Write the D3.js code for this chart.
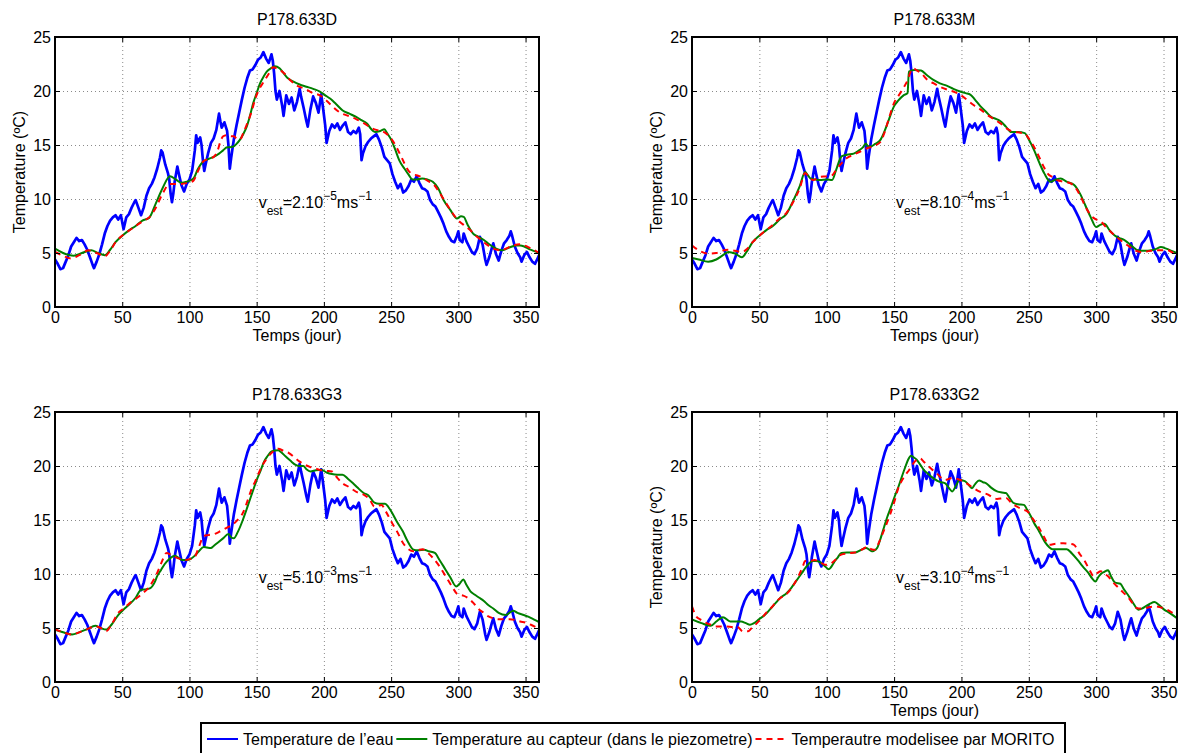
<!DOCTYPE html>
<html>
<head>
<meta charset="utf-8">
<script src="https://cdn.jsdelivr.net/npm/d3@7"></script>
<style>
  html, body { margin: 0; padding: 0; background: #fff; }
  svg { display: block; font-family: "Liberation Sans", Arial, Helvetica, sans-serif; }
</style>
</head>
<body>
<div id="chart"></div>
<script>
// ---------------- DATA ----------------
const panelTitles = ["P178.633D", "P178.633M", "P178.633G3", "P178.633G2"];
const velocityMantissa = ["2", "8", "5", "3"];
const velocityExponent = ["\u22125", "\u22124", "\u22123", "\u22124"];
const xTicks = [0, 50, 100, 150, 200, 250, 300, 350];
const yTicks = [0, 5, 10, 15, 20, 25];
const legendLabels = ["Temperature de l\u2019eau", "Temperature au capteur (dans le piezometre)", "Temperautre modelisee par MORITO"];

// water temperature (common to all panels): day, °C
const waterDays = [0,2,4,6,8,10,12,14,16,18,20,22,24,26,28,29,31,33,35,37,39,41,43,45,47,49,51,53,55,57,59,60,62,64,66,68,70,72,74,76,78,79,80,82,84,85,86,87,88,89,91,92,94,96,98,100,102,104,105,106,108,109,110,111,112,114,116,118,120,122,123,124,126,128,129,130,131,133,135,137,139,141,143,145,147,149,151,153,155,157,159,161,162,163,164,165,167,169,170,172,174,176,178,180,182,183,185,187,188,190,192,194,196,198,199,200,201,202,204,206,208,210,212,214,216,218,220,222,224,226,227,228,229,231,233,235,237,239,241,243,245,247,249,251,253,255,257,259,261,263,265,267,269,271,273,275,277,279,281,283,285,287,289,291,293,295,297,299,300,301,303,304,306,308,310,312,314,316,318,320,321,323,325,326,328,330,332,334,336,338,339,340,342,344,346,347,349,351,353,355,357,359,360];
const waterTemp = [4.4,4.0,3.5,3.6,4.2,4.8,5.6,6.0,6.4,6.1,6.2,5.8,5.3,4.6,3.9,3.6,4.2,4.9,5.8,6.8,7.5,8.0,8.3,8.5,8.1,8.5,7.2,8.3,8.6,9.2,9.7,9.9,9.2,8.5,9.2,10.3,11.0,11.4,12.0,12.8,13.8,14.5,14.3,13.2,12.4,11.8,10.5,9.7,10.5,11.6,13.0,12.4,11.3,10.7,11.4,11.8,12.6,14.5,15.9,15.2,15.7,15.0,13.6,12.6,13.2,14.3,15.2,15.6,16.4,17.9,17.2,16.6,17.1,16.3,15.0,12.8,13.8,15.5,16.8,18.0,19.2,20.3,21.2,21.9,22.0,22.4,22.9,23.1,23.6,23.0,22.6,23.4,22.8,21.6,20.0,19.2,20.0,18.6,17.7,19.6,18.8,19.4,18.2,19.0,20.2,19.5,18.4,17.2,16.7,18.3,19.5,18.9,18.0,19.7,18.8,17.8,16.8,15.2,16.3,16.9,16.6,17.0,16.4,16.8,17.1,16.2,16.0,16.3,16.1,16.6,16.0,13.6,14.2,14.9,15.3,15.6,15.8,16.0,15.5,14.8,13.9,13.6,13.3,12.3,11.6,11.0,11.4,10.6,10.8,11.2,11.8,11.6,12.1,11.5,11.0,10.9,10.7,9.9,9.5,9.3,8.8,8.3,7.7,7.0,6.5,6.1,6.0,6.6,7.0,6.2,6.0,6.8,6.1,5.6,5.1,4.9,5.4,6.5,5.8,4.4,3.9,4.6,5.5,5.9,4.9,4.3,5.2,5.9,6.2,6.6,7.0,6.6,5.6,5.0,4.6,4.2,4.8,5.1,4.6,4.2,4.0,4.5,4.8];

// sensor temperature (green) and MORITO model (red) per piezometer: [day, °C]
const sensorD = [[0,5.4],[6,5.0],[14,4.75],[20,5.0],[27,5.25],[32,5.0],[37,4.8],[41,5.3],[45,6.0],[50,6.6],[55,7.1],[60,7.5],[65,8.0],[70,8.25],[75,9.6],[80,11.0],[85.5,12.1],[90,11.8],[94,11.5],[98,11.6],[103,11.9],[106,12.7],[110,13.45],[114,13.7],[118,13.9],[122,14.2],[125,14.5],[128,14.8],[130,14.8],[132.6,14.85],[135,15.1],[137.6,15.5],[140,16.0],[142.6,16.7],[145,17.7],[147.5,18.9],[150,19.8],[152.5,20.7],[155,21.3],[157.5,21.8],[160.5,22.1],[163.6,22.3],[167,22.1],[170,21.65],[173,21.2],[177,20.9],[182,20.6],[187,20.4],[192,20.2],[197,19.95],[201,19.6],[204.6,19.3],[209,18.8],[214,18.2],[219,17.9],[224,17.6],[228,17.3],[232,17.0],[235,16.5],[238,16.2],[242,16.3],[245,16.45],[247,16.1],[250,15.5],[253,14.6],[256,13.6],[260,12.8],[263,12.25],[266,11.8],[269,11.8],[273,11.9],[277,11.8],[281,11.6],[285,11.0],[289,9.9],[294,9.0],[299,8.2],[302,8.4],[304,8.35],[307,7.6],[311,6.8],[315,6.5],[319,6.2],[322,5.9],[326,5.55],[329,5.35],[332.5,5.25],[336,5.4],[339,5.55],[343,5.7],[346,5.7],[349,5.6],[352,5.4],[356,5.2],[360,5.0]];
const modelD = [[0,5.1],[5,4.8],[12,4.5],[18,4.8],[25,5.25],[31,5.0],[37,4.7],[41,5.2],[45,6.0],[52,6.8],[60,7.5],[66,8.0],[70,8.3],[75,9.2],[80,10.5],[85.5,11.4],[90,11.4],[94,11.4],[99,11.5],[103,11.7],[106,12.5],[110,13.45],[114,13.7],[118,13.9],[121,14.5],[123,15.3],[125,15.8],[128,15.9],[131,15.8],[133,15.8],[135,15.6],[137.6,15.5],[140,16.1],[143,17.0],[146,18.0],[149,19.3],[152,20.2],[155,20.8],[157.5,21.3],[160,21.8],[162,22.2],[165,22.1],[170,21.7],[175,21.0],[180,20.5],[186,20.2],[192,19.8],[197,19.6],[202,19.1],[207,18.5],[212,18.0],[218,17.7],[224,17.4],[230,17.0],[235,16.6],[239,16.4],[243,16.3],[246,16.1],[250,15.6],[254,14.8],[258,13.8],[263,12.6],[266,12.3],[269,12.2],[273,12.0],[277,11.7],[282,11.3],[287,10.4],[291,9.6],[294,9.0],[298,8.3],[301,7.9],[305,7.5],[309,7.1],[312,6.7],[316,6.3],[321,5.8],[326,5.4],[332,5.25],[337,5.5],[341,5.7],[346,5.8],[349,5.7],[352,5.55],[356,5.3],[360,5.0]];
const sensorM = [[0,4.55],[5,4.4],[12,4.2],[18,4.4],[23,4.8],[27,5.1],[32,4.95],[37,4.6],[41,5.2],[45,6.0],[50,6.6],[55,7.1],[60,7.5],[65,8.1],[70,8.6],[75,9.8],[80,11.2],[84,12.5],[86,12.2],[88,11.9],[92,11.8],[95,11.75],[100,11.8],[104,11.75],[107,12.7],[111,13.95],[115,14.1],[120,14.2],[124,14.5],[127,14.8],[129,15.15],[130.5,14.9],[132.4,14.85],[136,15.1],[140,15.5],[143,16.3],[146,17.3],[150,18.6],[153,19.1],[157,19.6],[160,19.8],[161,21.8],[165,21.95],[170,21.9],[174,21.5],[179.5,21.0],[184,20.7],[189,20.5],[194,20.2],[199,19.95],[203,19.8],[206.8,19.65],[210,19.2],[214,18.6],[218,18.1],[222,17.6],[226,17.4],[229,17.2],[233,16.7],[237,16.2],[242,16.2],[247,16.1],[250,15.5],[254,14.5],[258,13.3],[261.6,12.35],[266,11.6],[270,11.8],[273.7,11.9],[278,11.6],[283.7,11.3],[288,10.5],[292,9.4],[296,8.3],[300,7.4],[303,7.6],[306,7.7],[310,7.1],[313.5,6.65],[317,6.4],[321,6.2],[326,5.7],[331,5.25],[336,5.2],[341,5.25],[345,5.4],[348,5.55],[352,5.4],[356,5.2],[360,5.0]];
const modelM = [[0,5.7],[5,5.25],[12,4.95],[18,5.0],[22,5.2],[27,5.3],[32,5.2],[37,5.1],[41,5.4],[45,6.0],[50,6.6],[55,7.1],[60,7.6],[65,8.2],[70,8.7],[75,9.7],[80,11.0],[84,12.4],[87,12.0],[90,11.75],[95,12.05],[100,12.1],[104,12.2],[107,12.7],[111,13.3],[115,13.8],[120,14.1],[125,14.4],[130,14.7],[135,14.9],[140,15.3],[143,16.2],[146,17.4],[150,18.9],[154,19.7],[157,20.3],[160,21.0],[162,21.7],[164,22.1],[167,21.9],[170,21.65],[175,21.0],[179.5,20.7],[184,20.4],[190,20.1],[195,19.9],[199,19.65],[204,19.2],[209,18.7],[214,18.3],[219,17.8],[224,17.4],[229,17.0],[234,16.5],[239,16.2],[243,16.15],[247,16.05],[250,15.6],[254,14.8],[258,13.8],[261,13.0],[264,12.35],[268,12.0],[271,11.75],[276,11.6],[281,11.45],[285,11.0],[288.6,10.2],[292,9.3],[296,8.5],[300,8.1],[303.5,7.9],[308,7.3],[313.5,6.65],[318,6.2],[323.5,5.7],[328,5.3],[333,5.1],[338,5.15],[343,5.25],[348,5.25],[353,5.25],[357,5.0],[360,4.8]];
const sensorG3 = [[0,4.85],[6,4.6],[12.7,4.4],[18,4.6],[24,4.9],[30,5.2],[34,5.0],[38,4.85],[42,5.3],[47,6.2],[51,6.7],[55,7.15],[60,7.8],[64,8.55],[68,8.6],[71,8.7],[74,9.2],[76,9.8],[79,10.4],[81.5,10.9],[85,11.4],[89.4,11.7],[92,11.5],[94.7,11.3],[98,11.3],[101,11.4],[104,11.7],[107,12.1],[110.6,12.5],[113,12.45],[116,12.4],[118,12.6],[121,12.9],[125,13.3],[129,13.7],[131,13.4],[133,13.3],[136,13.9],[139.7,15.0],[142,15.8],[145,16.9],[147.5,17.8],[150,18.7],[153,19.6],[155.5,20.4],[158,20.9],[161,21.35],[166,21.45],[168,21.3],[171.4,20.9],[175,20.5],[179,20.1],[182,20.0],[184.7,20.0],[187,19.7],[190,19.5],[194,19.6],[198,19.65],[202,19.4],[206,19.25],[210,19.2],[213.8,19.2],[218,18.8],[221.7,18.4],[225,18.0],[229.6,17.5],[233,17.3],[237.6,16.6],[241,16.5],[245.5,16.5],[248,16.2],[250.8,15.65],[254,14.9],[258.7,13.95],[262,13.1],[266.7,12.25],[270,12.2],[274.6,12.25],[278,12.1],[282.5,11.95],[286,11.3],[290.5,10.4],[294,9.7],[298.4,8.85],[301,9.1],[303.7,9.5],[306,9.0],[309,8.4],[312,8.1],[315.6,7.8],[319,7.5],[322,7.15],[326,6.8],[330,6.4],[335.4,6.2],[338,6.4],[340.7,6.6],[344,6.4],[348.7,6.2],[352,6.05],[356,5.8],[360,5.55]];
const modelG3 = [[0,4.9],[6,4.6],[12.7,4.4],[18,4.6],[24,4.9],[30,5.15],[34,5.0],[38,4.7],[42,5.3],[47,6.4],[51,6.8],[55,7.25],[60,7.7],[65.6,8.25],[70,8.8],[73.5,9.5],[76,10.1],[79,11.0],[83,11.95],[86,11.8],[89,11.6],[93,11.4],[97,11.3],[101,11.4],[104,11.6],[107,12.5],[110.6,13.5],[114,13.6],[118.5,13.7],[122,13.9],[125,14.1],[128,14.3],[131.7,14.55],[135,14.9],[139.7,15.65],[143,16.7],[146,17.8],[149,18.6],[151.6,19.35],[154,20.0],[157,20.6],[161,21.2],[164,21.5],[166,21.6],[170,21.4],[174,21.2],[178,20.8],[182,20.4],[186,20.1],[190,19.9],[194,19.75],[198,19.6],[202,19.55],[206,19.5],[210,18.9],[213.8,18.4],[218,18.1],[221.7,17.8],[225,17.55],[229.6,17.35],[234,16.9],[237.6,16.25],[240,16.3],[242.9,16.4],[246,15.8],[250.8,14.7],[255,13.8],[258.7,12.9],[262,12.4],[266.7,12.1],[270,12.2],[273.3,12.3],[277,12.0],[281,11.5],[286,10.7],[290.5,9.8],[295,8.9],[299.7,8.1],[303.7,8.0],[309,7.6],[312,7.2],[315.6,6.7],[319,6.4],[322,6.1],[326,5.9],[330,5.8],[334,5.8],[338,5.8],[342,5.75],[346,5.6],[350,5.5],[354,5.3],[360,4.95]];
const sensorG2 = [[0,5.8],[7,5.45],[14,5.2],[18,5.6],[23,6.0],[28.4,5.6],[32,5.6],[36.4,5.6],[40,5.45],[43,5.3],[46,5.45],[49.7,5.8],[54,6.2],[57.7,6.7],[62,7.3],[65.6,7.8],[70,8.2],[73.6,8.7],[77,9.3],[81.6,10.1],[85,10.7],[89.6,11.2],[92,11.2],[95,11.1],[98,10.8],[101.5,10.45],[103,10.6],[105.5,11.1],[108,11.5],[110.8,11.95],[115,12.0],[121.4,12.0],[125,12.2],[129.4,12.4],[131,12.3],[133.4,12.1],[135,12.15],[137.4,12.4],[140,13.3],[142.7,14.4],[145,15.3],[148,16.3],[150.5,17.2],[153.3,18.1],[156,19.1],[158.6,20.0],[160.5,20.6],[162.6,20.95],[164.5,20.8],[166.6,20.6],[169,20.2],[172,19.65],[175,19.3],[177.2,19.05],[180,18.8],[182.6,18.6],[185,18.5],[188,18.4],[190.5,18.0],[193.2,17.65],[196,18.2],[198.5,18.7],[202.5,18.6],[205,18.3],[207.8,17.95],[210,18.3],[213.1,18.65],[216,18.5],[218.4,18.4],[222,18.0],[226.4,17.65],[230,17.55],[233,17.5],[235.5,17.1],[238.4,16.6],[242,16.45],[246.3,16.4],[249,15.9],[251.7,15.3],[254,14.7],[257,14.1],[260,13.4],[262.3,12.9],[265,12.5],[267.6,12.3],[272,12.3],[278.2,12.3],[282,11.9],[286.2,11.3],[290,10.7],[294.2,10.1],[297,9.6],[299.5,9.3],[301.5,9.7],[303.5,10.0],[306,10.2],[308.8,10.35],[311,9.8],[314.1,9.2],[318,9.1],[320.5,8.6],[323.4,8.1],[327,7.4],[331.4,6.7],[334,6.8],[336.7,7.0],[340,7.25],[343.3,7.4],[346,7.2],[350,6.75],[355,6.35],[360,5.9]];
const modelG2 = [[0,7.0],[3,6.1],[6,5.8],[10,5.5],[14,5.3],[18,5.15],[22,5.15],[25.8,5.15],[30,5.1],[33.7,5.1],[37.7,4.7],[41.7,4.7],[44,4.95],[47,5.3],[51,5.8],[55,6.4],[59,6.9],[63,7.5],[67,7.9],[71,8.25],[75,8.9],[79,9.8],[82,10.6],[84,11.2],[87,11.2],[91,11.3],[95,11.1],[98.9,10.85],[102,10.9],[105.5,11.2],[108,11.5],[110.8,11.8],[115,11.9],[121.4,12.0],[126,12.25],[130.7,12.55],[133,12.3],[136,12.25],[139,13.0],[142.7,14.1],[147,15.5],[150.7,16.9],[153,17.9],[156,18.7],[158.6,19.2],[161.3,19.65],[163,20.0],[165.3,20.4],[169.3,20.7],[172,20.4],[174.6,20.1],[178,19.7],[182.6,19.2],[185,18.9],[188,18.7],[190.5,18.8],[193.2,18.9],[197,18.8],[201,18.6],[205,18.3],[209,17.95],[214,17.6],[219.8,17.35],[223,17.1],[226.4,16.95],[230,17.0],[233,17.05],[237,16.6],[241,16.25],[245,16.0],[249,15.8],[253,15.1],[257,14.4],[261,13.5],[265,12.7],[270,12.8],[275.6,12.85],[280,12.8],[283.6,12.7],[287,12.0],[291.5,11.2],[295,10.4],[298.2,9.8],[301,10.1],[303.5,10.25],[306,10.0],[308.8,9.8],[312,9.3],[316.8,8.7],[320,8.3],[323.4,7.9],[327,7.3],[330,6.85],[333,6.8],[336.7,6.85],[340,6.95],[344.7,7.0],[348,6.9],[352.6,6.7],[356,6.45],[360,6.2]];

const sensorSeries = [sensorD, sensorM, sensorG3, sensorG2];
const modelSeries = [modelD, modelM, modelG3, modelG2];

// ---------------- LAYOUT ----------------
const W = 1181, H = 753;
const colLeft = [55, 692], colRight = [539, 1177];
const rowTop = [37, 412], rowBottom = [307, 682];
const showXLabel = [true, true, false, true];
const showYLabel = [true, true, false, true];
const cBlue = "#0000ff", cGreen = "#008000", cRed = "#ff0000";
const FS = 16;

const svg = d3.select("#chart").append("svg").attr("width", W).attr("height", H);
svg.append("rect").attr("width", W).attr("height", H).attr("fill", "#fff");

const water = waterDays.map((d, i) => [d, waterTemp[i]]);

panelTitles.forEach((title, i) => {
  const col = i % 2, row = Math.floor(i / 2);
  const x0 = colLeft[col], x1 = colRight[col], y0 = rowTop[row], y1 = rowBottom[row];
  const w = x1 - x0, h = y1 - y0;
  const x = d3.scaleLinear().domain([0, 360]).range([0, w]);
  const y = d3.scaleLinear().domain([0, 25]).range([h, 0]);
  const g = svg.append("g").attr("transform", `translate(${x0},${y0})`);

  // grid
  const gx = g.append("g").attr("transform", `translate(0,${h})`)
    .call(d3.axisBottom(x).tickValues(xTicks).tickSize(-h).tickFormat(""));
  const gy = g.append("g")
    .call(d3.axisLeft(y).tickValues(yTicks).tickSize(-w).tickFormat(""));
  [gx, gy].forEach(a => {
    a.select(".domain").remove();
    a.selectAll("line").attr("stroke", "#8a8a8a").attr("stroke-width", 1).attr("stroke-dasharray", "1,3");
  });

  // clip
  const cid = "clip" + i;
  g.append("clipPath").attr("id", cid).append("rect").attr("width", w).attr("height", h);
  const plot = g.append("g").attr("clip-path", `url(#${cid})`);

  const lineLin = d3.line().x(d => x(d[0])).y(d => y(d[1]));
  const lineSmooth = d3.line().x(d => x(d[0])).y(d => y(d[1])).curve(d3.curveMonotoneX);

  plot.append("path").datum(water).attr("d", lineLin)
    .attr("fill", "none").attr("stroke", cBlue).attr("stroke-width", 2.7).attr("stroke-linejoin", "round");
  plot.append("path").datum(sensorSeries[i]).attr("d", lineSmooth)
    .attr("fill", "none").attr("stroke", cGreen).attr("stroke-width", 2);
  plot.append("path").datum(modelSeries[i]).attr("d", lineSmooth)
    .attr("fill", "none").attr("stroke", cRed).attr("stroke-width", 2).attr("stroke-dasharray", "6,5");

  // axes with inward ticks
  const ab = g.append("g").attr("transform", `translate(0,${h})`)
    .call(d3.axisBottom(x).tickValues(xTicks).tickSize(-5).tickPadding(5));
  const al = g.append("g")
    .call(d3.axisLeft(y).tickValues(yTicks).tickSize(-5).tickPadding(4));
  const at = g.append("g")
    .call(d3.axisTop(x).tickValues(xTicks).tickSize(-5).tickFormat(""));
  const ar = g.append("g").attr("transform", `translate(${w},0)`)
    .call(d3.axisRight(y).tickValues(yTicks).tickSize(-5).tickFormat(""));
  [ab, al, at, ar].forEach(a => {
    a.select(".domain").remove();
    a.selectAll("line").attr("stroke", "#000").attr("stroke-width", 1);
    a.selectAll("text").attr("font-size", FS).attr("fill", "#000")
      .attr("font-family", "'Liberation Sans', Arial, sans-serif");
  });

  g.append("rect").attr("width", w).attr("height", h)
    .attr("fill", "none").attr("stroke", "#000").attr("stroke-width", 2);

  // title
  g.append("text").attr("x", w / 2).attr("y", -12.5).attr("text-anchor", "middle")
    .attr("font-size", FS).text(title);

  if (showXLabel[i]) {
    g.append("text").attr("x", w / 2).attr("y", h + 34).attr("text-anchor", "middle")
      .attr("font-size", FS).text("Temps (jour)");
  }
  if (showYLabel[i]) {
    g.append("text").attr("transform", `translate(-30,${h / 2}) rotate(-90)`)
      .attr("text-anchor", "middle").attr("font-size", FS).text("Temperature (\u00baC)");
  }

  // annotation
  const t = g.append("text").attr("x", x(150) + 2).attr("y", y(9.2)).attr("font-size", FS);
  t.append("tspan").text("v");
  t.append("tspan").attr("font-size", 12).attr("dy", 7).text("est");
  t.append("tspan").attr("dy", -7).text("=" + velocityMantissa[i] + ".10");
  t.append("tspan").attr("font-size", 12).attr("dy", -8).text(velocityExponent[i]);
  t.append("tspan").attr("dy", 8).text("ms");
  t.append("tspan").attr("font-size", 12).attr("dy", -8).text("\u22121");
});

// ---------------- LEGEND ----------------
const legend = svg.append("g");
legend.append("rect").attr("x", 201).attr("y", 723).attr("width", 864).attr("height", 40)
  .attr("fill", "#fff").attr("stroke", "#000").attr("stroke-width", 2);
const legColors = [cBlue, cGreen, cRed];
let lx = 207;
legendLabels.forEach((lab, i) => {
  const ln = legend.append("line").attr("x1", lx).attr("x2", lx + 31).attr("y1", 739).attr("y2", 739)
    .attr("stroke", legColors[i]).attr("stroke-width", 2);
  if (i === 2) ln.attr("stroke-dasharray", "6,5");
  const tx = legend.append("text").attr("x", lx + 36).attr("y", 745).attr("font-size", FS).text(lab);
  lx = lx + 36 + tx.node().getComputedTextLength() + 3;
});
</script>
</body>
</html>
